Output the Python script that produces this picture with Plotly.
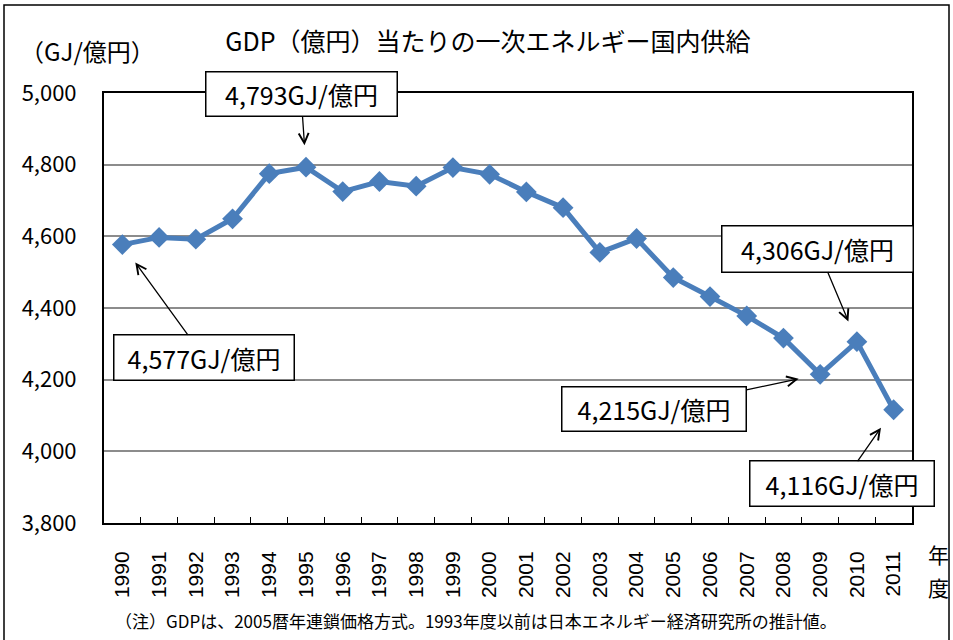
import plotly.graph_objects as go

# ---- data ----
years = ["1990", "1991", "1992", "1993", "1994", "1995", "1996", "1997", "1998", "1999", "2000",
         "2001", "2002", "2003", "2004", "2005", "2006", "2007", "2008", "2009", "2010", "2011"]
values = [4577, 4597, 4592, 4649, 4775, 4793, 4725, 4753, 4740, 4792, 4773,
          4724, 4680, 4555, 4594, 4485, 4432, 4378, 4316, 4215, 4306, 4116]
y_ticks = [3800, 4000, 4200, 4400, 4600, 4800, 5000]

title_text = "GDP（億円）当たりの一次エネルギー国内供給"
y_unit_text = "（GJ/億円）"
x_unit_chars = ["年", "度"]
note_text = "（注）GDPは、2005暦年連鎖価格方式。1993年度以前は日本エネルギー経済研究所の推計値。"

callout_years = ["1990", "1995", "2009", "2010", "2011"]

# ---- styles (callout box offsets/sizes in px) ----
callout_style = {
    "1990": dict(ax=82, ay=113, w=181, h=46),
    "1995": dict(ax=-5, ay=-73, w=192, h=45),
    "2009": dict(ax=-166, ay=35, w=185, h=45),
    "2010": dict(ax=-39, ay=-93, w=192, h=47),
    "2011": dict(ax=-52, ay=74, w=185, h=46),
}

JP = "Noto Sans CJK JP"
LINE_COLOR = "#4A7EBB"

fig = go.Figure()
fig.add_trace(go.Scatter(
    x=years, y=values, mode="lines+markers",
    line=dict(color=LINE_COLOR, width=5),
    marker=dict(symbol="diamond", size=16, color=LINE_COLOR),
    cliponaxis=False, showlegend=False, hoverinfo="skip",
))

annotations = []
for yr in callout_years:
    idx = years.index(yr)
    v = values[idx]
    s = callout_style[yr]
    annotations.append(dict(
        x=idx, y=v, xref="x", yref="y",
        text=f"{v:,}GJ/億円",
        showarrow=True, axref="pixel", ayref="pixel", ax=s["ax"], ay=s["ay"],
        arrowhead=5, arrowsize=1.5, arrowwidth=1.3, arrowcolor="black",
        standoff=22,
        width=s["w"] - 2, height=s["h"] - 2, borderpad=0,
        bordercolor="black", borderwidth=1.5, bgcolor="white",
        font=dict(family=JP, size=25, color="black"),
        align="center", valign="middle",
    ))

# axis unit label
annotations.append(dict(
    x=(18 - 104) / 808, y=(523 - 51) / 430, xref="paper", yref="paper",
    xanchor="left", yanchor="middle", showarrow=False,
    text=y_unit_text, font=dict(family=JP, size=24, color="black"),
))
# 年 / 度
for ch, py in zip(x_unit_chars, [554, 587]):
    annotations.append(dict(
        x=(939 - 104) / 808, y=(523 - py) / 430, xref="paper", yref="paper",
        xanchor="center", yanchor="middle", showarrow=False,
        text=ch, font=dict(family=JP, size=21, color="black"),
    ))
# note
annotations.append(dict(
    x=(113 - 104) / 808, y=(523 - 620) / 430, xref="paper", yref="paper",
    xanchor="left", yanchor="middle", showarrow=False,
    text=note_text, font=dict(family=JP, size=17, color="black"),
))

fig.update_layout(
    width=953, height=640,
    margin=dict(l=104, r=41, t=93, b=117, pad=0),
    paper_bgcolor="white", plot_bgcolor="white",
    title=dict(text=title_text, x=488 / 953, xanchor="center",
               y=1 - 42 / 640, yanchor="middle",
               font=dict(family=JP, size=25, color="black")),
    annotations=annotations,
    shapes=[dict(type="rect", xref="paper", yref="paper",
                 x0=(4 - 104) / 808, x1=(949 - 104) / 808,
                 y0=(523 - 660) / 430, y1=(523 - 5) / 430,
                 line=dict(color="black", width=1.5), layer="below")],
)

fig.update_xaxes(
    type="category", categoryorder="array", categoryarray=years,
    range=[-0.5, len(years) - 0.5], autorange=False,
    showline=True, linecolor="black", linewidth=2, mirror=True,
    ticks="inside", tickson="boundaries", ticklen=6, tickwidth=1.3, tickcolor="black",
    tickangle=-90, ticklabelstandoff=18,
    tickfont=dict(family="Liberation Sans", size=21, color="black"),
    showgrid=False, zeroline=False,
)
fig.update_yaxes(
    range=[3800, 5000], autorange=False, tickvals=y_ticks, tickformat=",",
    showline=True, linecolor="black", linewidth=2, mirror=True,
    ticks="", ticklabelstandoff=21,
    tickfont=dict(family=JP, size=22, color="black"),
    showgrid=True, gridcolor="#8c8c8c", gridwidth=1.5, zeroline=False,
)

fig.write_html("out.html", config={"displayModeBar": False},
               post_script="document.body.style.margin='0';")
